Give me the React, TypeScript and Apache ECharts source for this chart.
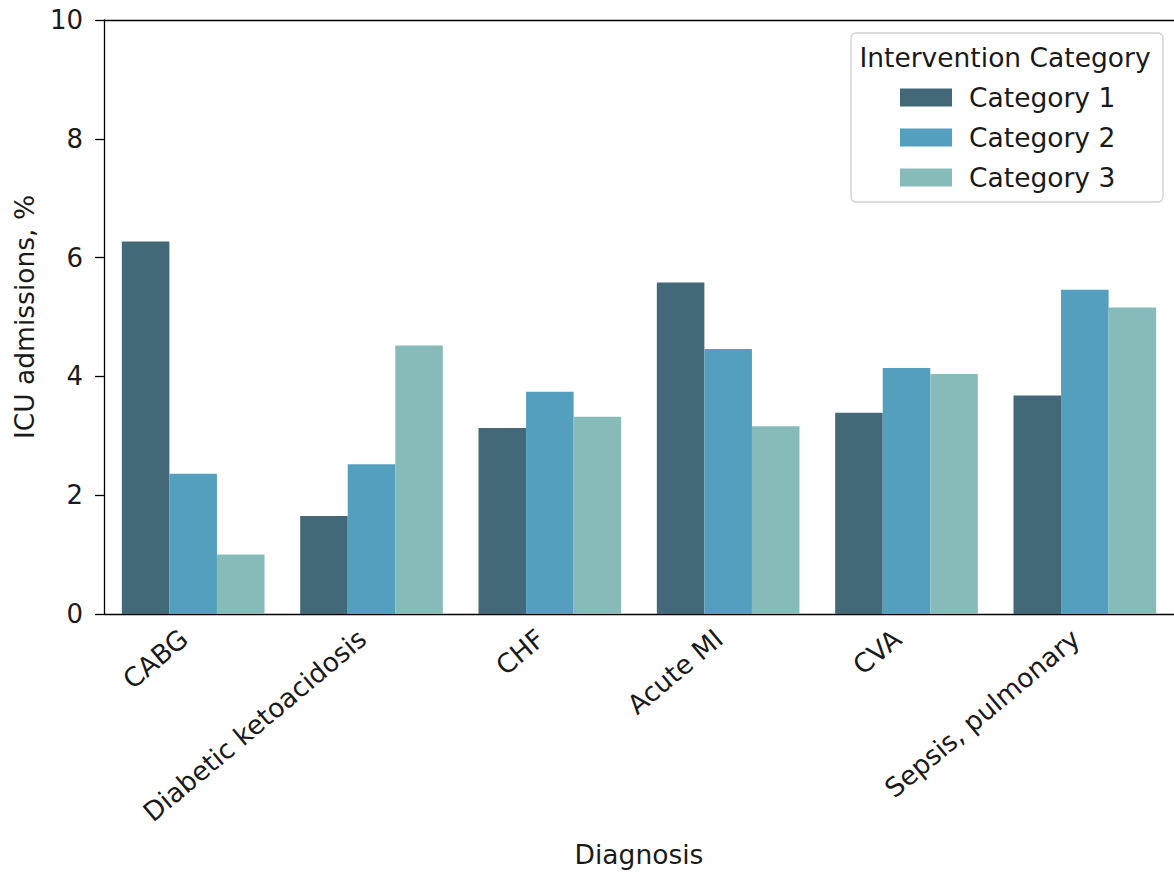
import React, { useEffect, useRef } from "react";
import * as echarts from "echarts";

const categories = ["CABG", "Diabetic ketoacidosis", "CHF", "Acute MI", "CVA", "Sepsis, pulmonary"];
const seriesNames = ["Category 1", "Category 2", "Category 3"];
const category1 = [6.27, 1.65, 3.13, 5.58, 3.39, 3.68];
const category2 = [2.36, 2.52, 3.74, 4.46, 4.14, 5.46];
const category3 = [1.0, 4.52, 3.32, 3.16, 4.04, 5.16];
const yTicks = [0, 2, 4, 6, 8, 10];
const colors = ["#436877", "#549fbe", "#86bbba"];

const FONT = "DejaVu Sans";
const TEXT = "#1a1a1a";
const FS = 26.5;

export default function App() {
  const ref = useRef<HTMLDivElement>(null);
  useEffect(() => {
    if (!ref.current) return;
    const chart = echarts.init(ref.current, undefined, { renderer: "svg" });
    const values = [category1, category2, category3];
    chart.setOption({
      animation: false,
      backgroundColor: "#ffffff",
      textStyle: { fontFamily: FONT },
      grid: {
        left: 104,
        top: 20,
        width: 1076,
        height: 594,
        show: false,
        containLabel: false,
      },
      legend: {
        orient: "vertical",
        left: 895,
        top: 79,
        itemWidth: 52,
        itemHeight: 18,
        itemGap: 13,
        icon: "rect",
        data: seriesNames,
        textStyle: {
          fontFamily: FONT,
          fontSize: FS,
          color: TEXT,
          padding: [0, 0, 0, 12],
        },
      },
      xAxis: [
        {
          type: "category",
          data: categories,
          name: "Diagnosis",
          nameLocation: "middle",
          nameGap: 227,
          nameTextStyle: { fontFamily: FONT, fontSize: FS, color: TEXT },
          axisLine: { lineStyle: { color: "#000", width: 1.3 } },
          axisTick: { alignWithLabel: true, length: 9, lineStyle: { color: "#000", width: 1.3 } },
          axisLabel: {
            rotate: 40,
            interval: 0,
            margin: 13,
            padding: [0, 12, 0, 0],
            fontFamily: FONT,
            fontSize: FS,
            color: TEXT,
          },
        },
        {
          type: "category",
          data: categories,
          position: "top",
          axisLine: { show: true, lineStyle: { color: "#000", width: 1.3 } },
          axisTick: { show: false },
          axisLabel: { show: false },
          splitLine: { show: false },
        },
      ],
      yAxis: {
        type: "value",
        min: 0,
        max: 10,
        interval: 2,
        name: "ICU admissions, %",
        nameLocation: "middle",
        nameGap: 66,
        nameTextStyle: { fontFamily: FONT, fontSize: FS, color: TEXT },
        axisLine: { show: true, lineStyle: { color: "#000", width: 1.3 } },
        axisTick: { show: true, length: 9, lineStyle: { color: "#000", width: 1.3 } },
        splitLine: { show: false },
        axisLabel: {
          margin: 21,
          fontFamily: FONT,
          fontSize: 26,
          color: TEXT,
          formatter: (v: number) => (yTicks.includes(v) ? String(v) : ""),
        },
      },
      graphic: [
        {
          type: "rect",
          shape: { x: 851, y: 33, width: 312, height: 169, r: 5 },
          style: { fill: "rgba(255,255,255,0.8)", stroke: "#d0d0d0", lineWidth: 1.3 },
          z: 0,
          silent: true,
        },
        {
          type: "text",
          x: 1005,
          y: 57,
          style: {
            text: "Intervention Category",
            fontFamily: FONT,
            fontSize: FS,
            fill: TEXT,
            align: "center",
            verticalAlign: "middle",
          },
          z: 10,
        },
      ],
      series: seriesNames.map((name, i) => ({
        name,
        type: "bar",
        xAxisIndex: 0,
        data: values[i],
        barGap: "0%",
        barCategoryGap: "20%",
        itemStyle: { color: colors[i] },
      })),
    });
    return () => chart.dispose();
  }, []);
  return (
    <div
      ref={ref}
      style={{ position: "fixed", left: 0, top: 0, width: 1174, height: 878 }}
    />
  );
}
